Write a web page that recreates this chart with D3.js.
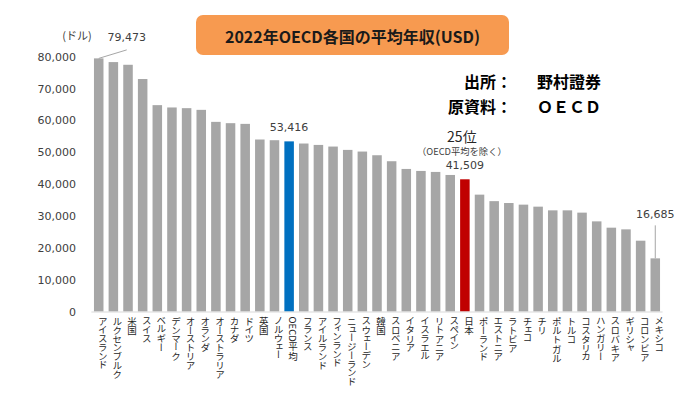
<!DOCTYPE html>
<html lang="ja">
<head>
<meta charset="UTF-8" />
<title>2022年OECD各国の平均年収(USD)</title>
<script src="https://d3js.org/d3.v7.min.js"></script>
<style>
  body { margin: 0; background: #fff; }
  svg { display: block; }
</style>
</head>
<body>
<svg width="700" height="393"></svg>
<script>
// データ
const countries = [
  "アイスランド", "ルクセンブルク", "米国", "スイス", "ベルギー", "デンマーク",
  "オーストリア", "オランダ", "オーストラリア", "カナダ", "ドイツ", "英国",
  "ノルウェー", "OECD平均", "フランス", "アイルランド", "フィンランド",
  "ニュージーランド", "スウェーデン", "韓国", "スロベニア", "イタリア",
  "イスラエル", "リトアニア", "スペイン", "日本", "ポーランド", "エストニア",
  "ラトビア", "チェコ", "チリ", "ポルトガル", "トルコ", "コスタリカ",
  "ハンガリー", "スロバキア", "ギリシャ", "コロンビア", "メキシコ"
];
const wages = [
  79473, 78310, 77463, 72993, 64790, 64060,
  63840, 63310, 59540, 59130, 58910, 54000,
  53780, 53416, 52740, 52300, 51790,
  50740, 50220, 49060, 47180, 44760,
  44130, 43820, 42870, 41509, 36690, 34650,
  34060, 33550, 32920, 31760, 31760, 31040,
  28300, 26320, 25790, 22230, 16685
];
const yTicks = [0, 10000, 20000, 30000, 40000, 50000, 60000, 70000, 80000];
const highlight = { "OECD平均": "#0070C0", "日本": "#C00000" };

const numFont = "'DejaVu Sans', 'Noto Sans CJK JP', sans-serif";
const jpFont = "'Noto Sans CJK JP', sans-serif";
const fmt = d3.format(",");

const svg = d3.select("svg");

const x = d3.scaleBand()
  .domain(countries)
  .range([91.4, 662.6])
  .paddingInner(0.35)
  .paddingOuter(0.175);

const y = d3.scaleLinear()
  .domain([0, 80000])
  .range([311.5, 56.7]);

// y軸ラベル
const yAxis = svg.append("g")
  .attr("transform", "translate(80,0)")
  .call(d3.axisLeft(y).tickValues(yTicks).tickFormat(fmt).tickSize(0).tickPadding(4));
yAxis.select(".domain").remove();
yAxis.selectAll("text")
  .style("font-family", numFont)
  .style("font-size", "11px")
  .attr("fill", "#404040");

// 棒
svg.selectAll(".bar")
  .data(countries)
  .enter()
  .append("rect")
  .attr("class", "bar")
  .attr("x", (d) => x(d))
  .attr("width", x.bandwidth())
  .attr("y", (d, i) => y(wages[i]))
  .attr("height", (d, i) => y(0) - y(wages[i]))
  .attr("fill", (d) => highlight[d] || "#A6A6A6");

// x軸
svg.append("line")
  .attr("x1", x.range()[0]).attr("x2", x.range()[1])
  .attr("y1", y(0) + 0.5).attr("y2", y(0) + 0.5)
  .attr("stroke", "#D9D9D9").attr("stroke-width", 1);

// 国名（縦書き）
svg.selectAll(".cat")
  .data(countries)
  .enter()
  .append("text")
  .attr("class", "cat")
  .attr("x", (d) => x(d) + x.bandwidth() / 2 + 4)
  .attr("y", y(0) + 5)
  .style("writing-mode", "vertical-rl")
  .style("font-feature-settings", "'vpal'")
  .style("font-family", jpFont)
  .style("font-size", "9.5px")
  .attr("fill", "#262626")
  .text((d) => d);

// 単位
svg.append("text")
  .attr("x", 77).attr("y", 40)
  .attr("text-anchor", "middle")
  .style("font-family", jpFont).style("font-size", "11px")
  .attr("fill", "#404040")
  .text("(ドル)");

// 数値ラベル
function cx(name) { return x(name) + x.bandwidth() / 2; }
function val(name) { return wages[countries.indexOf(name)]; }

svg.append("line")
  .attr("x1", cx("アイスランド")).attr("y1", y(val("アイスランド")))
  .attr("x2", cx("アイスランド") + 28).attr("y2", y(val("アイスランド")) - 8.5)
  .attr("stroke", "#A6A6A6").attr("stroke-width", 1);
svg.append("text")
  .attr("x", cx("アイスランド") + 28).attr("y", 41)
  .attr("text-anchor", "middle")
  .style("font-family", numFont).style("font-size", "11px")
  .attr("fill", "#404040")
  .text(fmt(val("アイスランド")));

svg.append("text")
  .attr("x", cx("OECD平均")).attr("y", y(val("OECD平均")) - 10.5)
  .attr("text-anchor", "middle")
  .style("font-family", numFont).style("font-size", "11px")
  .attr("fill", "#404040")
  .text(fmt(val("OECD平均")));

svg.append("text")
  .attr("x", cx("日本") - 3).attr("y", y(val("日本")) - 37)
  .attr("text-anchor", "middle")
  .style("font-family", jpFont).style("font-size", "14px")
  .attr("fill", "#262626")
  .text("25位");
svg.append("text")
  .attr("x", cx("日本") - 3).attr("y", y(val("日本")) - 24)
  .attr("text-anchor", "middle")
  .style("font-family", jpFont).style("font-size", "9.3px")
  .attr("fill", "#404040")
  .text("（OECD平均を除く）");
svg.append("text")
  .attr("x", cx("日本")).attr("y", y(val("日本")) - 10.5)
  .attr("text-anchor", "middle")
  .style("font-family", numFont).style("font-size", "11px")
  .attr("fill", "#404040")
  .text(fmt(val("日本")));

svg.append("line")
  .attr("x1", cx("メキシコ")).attr("y1", y(val("メキシコ")))
  .attr("x2", cx("メキシコ")).attr("y2", y(val("メキシコ")) - 33)
  .attr("stroke", "#A6A6A6").attr("stroke-width", 1);
svg.append("text")
  .attr("x", cx("メキシコ")).attr("y", y(val("メキシコ")) - 40)
  .attr("text-anchor", "middle")
  .style("font-family", numFont).style("font-size", "11px")
  .attr("fill", "#404040")
  .text(fmt(val("メキシコ")));

// タイトル
svg.append("rect")
  .attr("x", 196).attr("y", 15)
  .attr("width", 313).attr("height", 40)
  .attr("rx", 7)
  .attr("fill", "#F79A50");
svg.append("text")
  .attr("x", 352.5).attr("y", 42.5)
  .attr("text-anchor", "middle")
  .style("font-family", jpFont).style("font-size", "16px").style("font-weight", "bold")
  .attr("fill", "#1a1a1a")
  .text("2022年OECD各国の平均年収(USD)");

// 出所
const src = svg.append("g")
  .style("font-family", jpFont).style("font-size", "16px").style("font-weight", "bold")
  .attr("fill", "#000");
src.append("text").attr("x", 512).attr("y", 87.5).attr("text-anchor", "end").text("出所：");
src.append("text").attr("x", 537).attr("y", 87.5).text("野村證券");
src.append("text").attr("x", 512).attr("y", 112.5).attr("text-anchor", "end").text("原資料：");
src.append("text").attr("x", 537).attr("y", 112.5).text("ＯＥＣＤ");
</script>
</body>
</html>
